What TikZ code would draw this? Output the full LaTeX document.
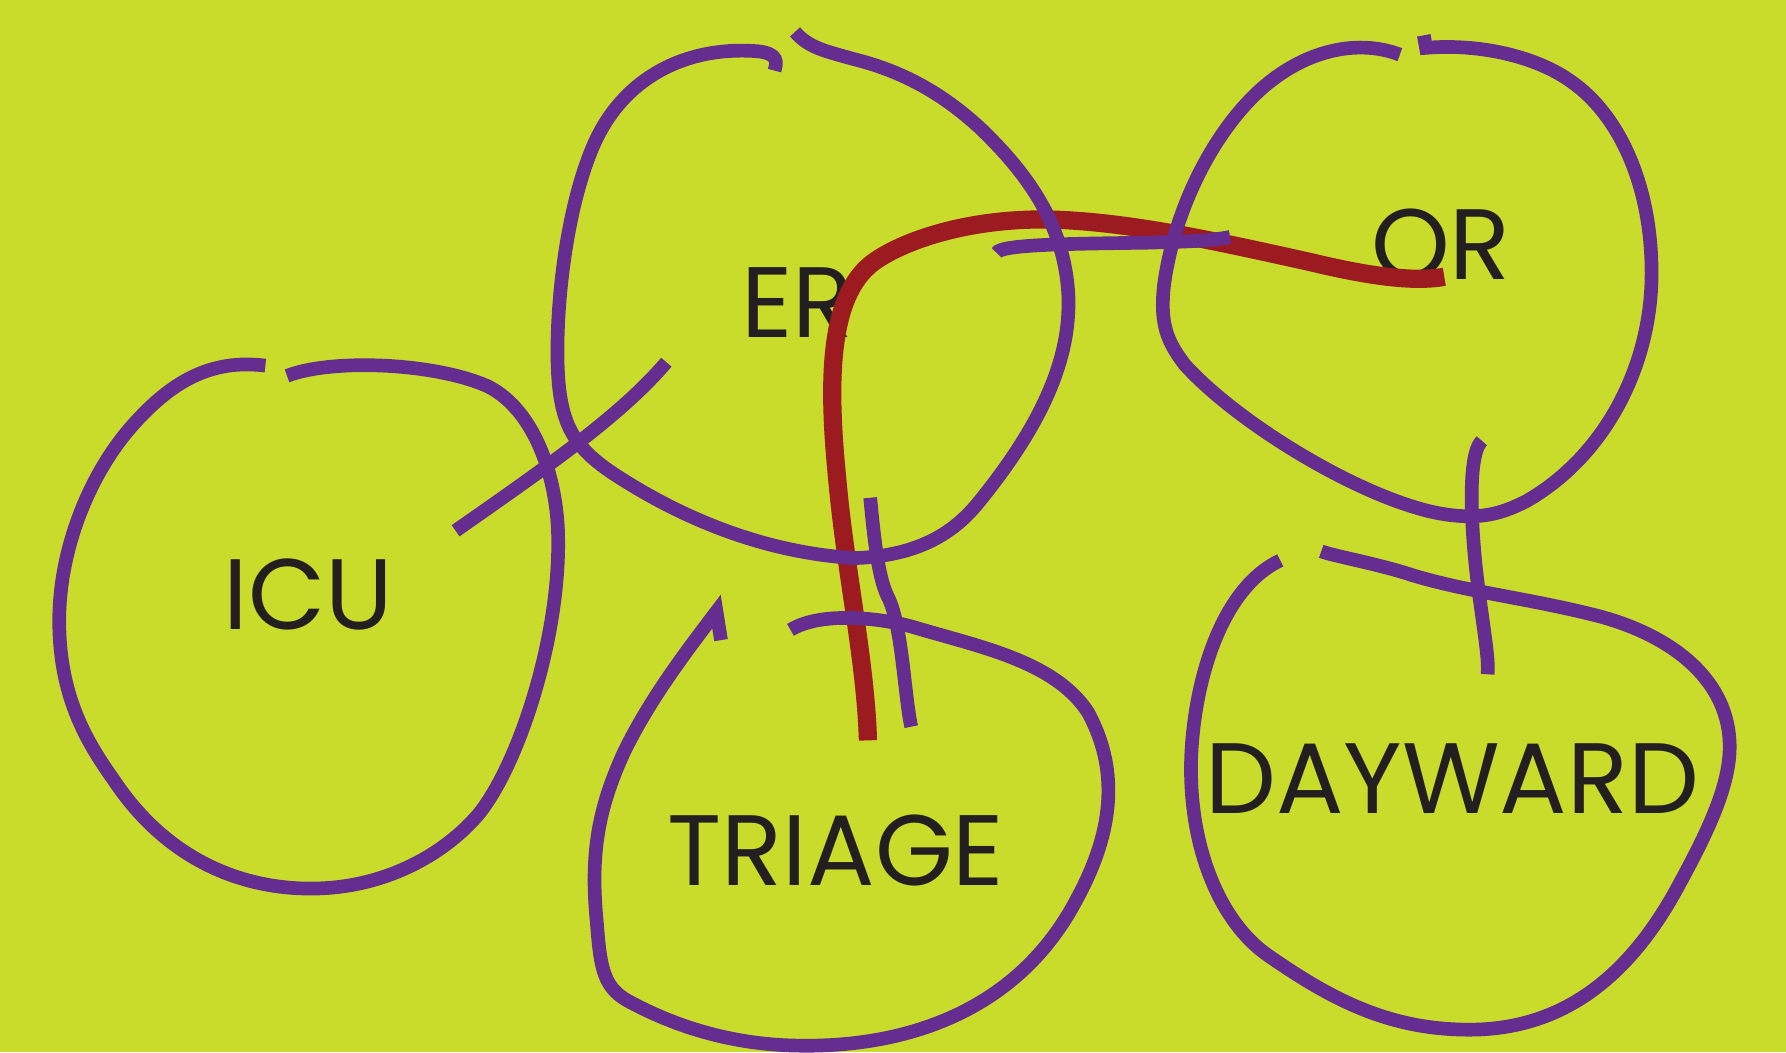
\documentclass[tikz,border=0pt]{standalone}
\usepackage{fontspec}
\usepackage{xcolor}
\usepackage{tikz}
\newfontfamily\wardfont{Poppins}
\definecolor{lime}{HTML}{CADC2B}
\definecolor{lilac}{HTML}{662D91}
\definecolor{blood}{HTML}{9B1B20}
\definecolor{ink}{HTML}{231F20}

\begin{document}
\begin{tikzpicture}[x=0.01cm, y=-0.01cm,
  ward/.style={text=ink, inner sep=0pt, anchor=base, font=\wardfont\fontsize{25}{25}\selectfont},
  loop/.style={draw=lilac, line width=1.2mm},
  vessel/.style={draw=blood, line width=1.6mm}]
\fill[lime] (0,0) rectangle (1568,924);
\useasboundingbox (0,0) rectangle (1568,924);
% labels
\node[ward] (icu)     at (271,553)  {ICU};
\node[ward] (er)      at (700,296)  {ER};
\node[ward] (or)      at (1265,245) {OR};
\node[ward] (triage)  at (734,777)  {TRIAGE};
\node[ward] (dayward) at (1275,714) {DAYWARD};
% red route
\draw[vessel] (762,650) .. controls (760,580) and (742,500) .. (735,420)
  .. controls (726,330) and (728,255) .. (770,228)
  .. controls (800,208) and (860,190) .. (930,193)
  .. controls (995,196) and (1060,210) .. (1150,230)
  .. controls (1200,242) and (1240,248) .. (1268,243);
% ICU
\draw[loop] (233,321) .. controls (185,315) and (150,335) .. (115,375)
  .. controls (80,415) and (52,480) .. (52,545)
  .. controls (52,610) and (75,650) .. (100,685)
  .. controls (150,760) and (220,782) .. (280,780)
  .. controls (340,778) and (390,750) .. (420,715)
  .. controls (455,672) and (492,560) .. (490,470)
  .. controls (489,420) and (470,360) .. (428,339)
  .. controls (380,318) and (290,315) .. (252,330);
% ER
\draw[loop] (680,62) .. controls (682,55) and (684,47) .. (665,45)
  .. controls (600,40) and (545,70) .. (520,130)
  .. controls (495,190) and (487,280) .. (490,330)
  .. controls (493,375) and (505,395) .. (545,420)
  .. controls (600,455) and (670,485) .. (750,490)
  .. controls (810,488) and (840,465) .. (860,440)
  .. controls (915,372) and (940,315) .. (938,260)
  .. controls (935,200) and (905,155) .. (860,112)
  .. controls (825,80) and (790,62) .. (750,52)
  .. controls (725,45) and (710,42) .. (698,28);
% OR
\draw[loop] (1229,48) .. controls (1190,33) and (1140,45) .. (1100,85)
  .. controls (1060,125) and (1030,190) .. (1022,250)
  .. controls (1018,285) and (1025,300) .. (1040,320)
  .. controls (1085,370) and (1190,435) .. (1260,450)
  .. controls (1300,458) and (1320,450) .. (1340,440)
  .. controls (1410,400) and (1450,320) .. (1450,240)
  .. controls (1450,160) and (1420,100) .. (1380,72)
  .. controls (1350,50) and (1300,38) .. (1252,42) -- (1250,31);
% DAYWARD
\draw[loop] (1124,492) .. controls (1075,515) and (1050,590) .. (1046,660)
  .. controls (1042,740) and (1070,810) .. (1115,840)
  .. controls (1170,878) and (1220,904) .. (1290,904)
  .. controls (1370,904) and (1430,860) .. (1475,775)
  .. controls (1505,720) and (1522,680) .. (1518,645)
  .. controls (1512,590) and (1460,555) .. (1400,540)
  .. controls (1340,525) and (1290,520) .. (1240,505)
  .. controls (1210,495) and (1170,488) .. (1160,484);
% TRIAGE
\draw[loop] (694,553) .. controls (720,537) and (770,542) .. (800,550)
  .. controls (860,568) and (925,580) .. (955,625)
  .. controls (985,680) and (975,735) .. (945,790)
  .. controls (895,885) and (800,920) .. (700,918)
  .. controls (640,917) and (590,900) .. (550,878)
  .. controls (530,866) and (527,850) .. (524,810)
  .. controls (518,750) and (525,710) .. (548,660)
  .. controls (570,615) and (600,575) .. (629,537) -- (633,562);
% strokes
\draw[loop] (400,466) .. controls (480,410) and (545,365) .. (585,318);
\draw[loop] (875,222) .. controls (878,214) and (950,214) .. (1010,213) .. controls (1040,212) and (1060,212) .. (1080,208);
\draw[loop] (764,437) .. controls (768,480) and (772,510) .. (780,525) .. controls (792,550) and (794,610) .. (800,638);
\draw[loop] (1301,387) .. controls (1292,395) and (1290,430) .. (1294,480) .. controls (1298,530) and (1308,575) .. (1306,592);
\end{tikzpicture}
\end{document}
